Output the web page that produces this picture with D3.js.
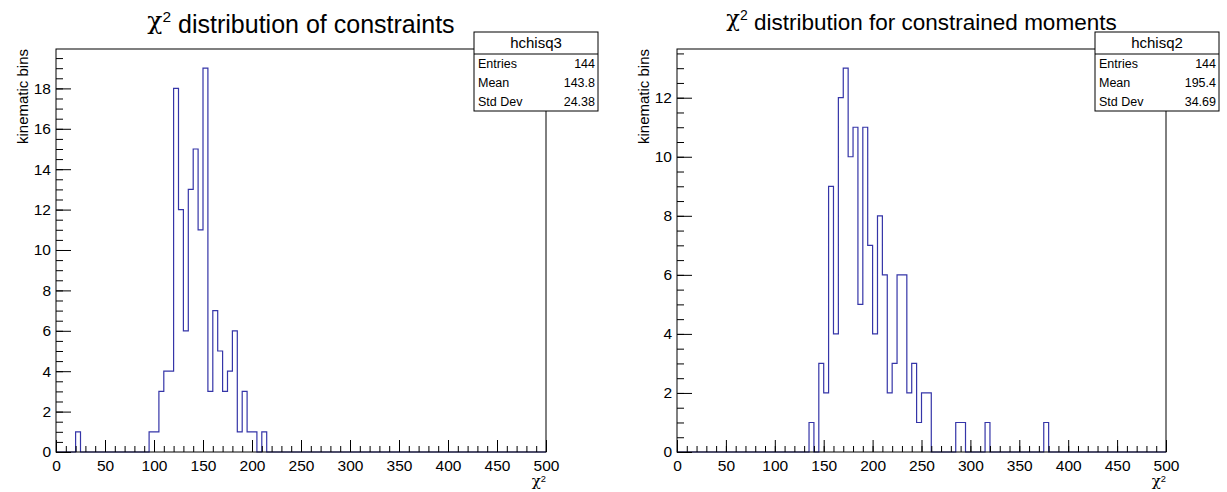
<!DOCTYPE html>
<html>
<head>
<meta charset="utf-8">
<script src="https://cdn.jsdelivr.net/npm/d3@7"></script>
<style>
  body { margin: 0; background: #fff; }
  svg { display: block; font-family: "Liberation Sans", Arial, sans-serif; }
</style>
</head>
<body>
<div id="chart"></div>
<script>
// --- data (bin width 5, range 0..500) ---
const binWidth = 5;
const xRange = [0, 500];

// hchisq3: counts starting at chi2 = 20
const constraintsStart = 20;
const constraintsCounts = [1, 0, 0, 0, 0, 0, 0, 0, 0, 0, 0, 0, 0, 0, 0, 1, 1, 3, 4, 4,
    18, 12, 6, 13, 15, 11, 19, 3, 7, 5, 3, 4, 6, 1, 3, 1, 1, 0, 1];

// hchisq2: counts starting at chi2 = 135
const momentsStart = 135;
const momentsCounts = [1, 0, 3, 2, 9, 4, 12, 13, 10, 11, 5, 11, 7, 4, 8, 6, 2, 3, 6, 6,
    2, 3, 1, 2, 2, 0, 0, 0, 0, 0, 1, 1, 0, 0, 0, 0, 1, 0, 0, 0, 0, 0, 0, 0, 0, 0, 0, 0, 1];

const xTicks = [0, 50, 100, 150, 200, 250, 300, 350, 400, 450, 500];
const constraintsYTicks = [0, 2, 4, 6, 8, 10, 12, 14, 16, 18];
const momentsYTicks = [0, 2, 4, 6, 8, 10, 12];

const statLabels = ["Entries", "Mean", "Std Dev"];
const constraintsStats = ["144", "143.8", "24.38"];
const momentsStats = ["144", "195.4", "34.69"];

const panels = [
    { title: "distribution of constraints", titleSize: 25, titleY: 29, name: "hchisq3",
      start: constraintsStart, counts: constraintsCounts, yTicks: constraintsYTicks,
      stats: constraintsStats, frame: { x0: 56, x1: 546 }, box: { x0: 474, x1: 598 } },
    { title: "distribution for constrained moments", titleSize: 22.5, titleY: 26, name: "hchisq2",
      start: momentsStart, counts: momentsCounts, yTicks: momentsYTicks,
      stats: momentsStats, frame: { x0: 677, x1: 1166 }, box: { x0: 1095, x1: 1219 } }
];

const W = 1227, H = 492;
const frameTop = 49, frameBottom = 452;
const lineColor = "#3535a8";

const svg = d3.select("#chart").append("svg")
    .attr("width", W)
    .attr("height", H);

// writes "χ²" followed by optional text
function chiText(sel, rest) {
    sel.append("tspan").attr("font-family", "DejaVu Serif, serif").text("χ");
    sel.append("tspan").attr("dy", "-0.45em").attr("font-size", "62%").text("2");
    if (rest) sel.append("tspan").attr("dy", "0.45em").text(" " + rest);
}

panels.forEach(p => {
    const g = svg.append("g");

    // full histogram over the axis range
    const nBins = (xRange[1] - xRange[0]) / binWidth;
    const bins = d3.range(nBins).map(i => {
        const lo = xRange[0] + i * binWidth;
        const k = Math.round((lo - p.start) / binWidth);
        return { lo: lo, n: (k >= 0 && k < p.counts.length) ? p.counts[k] : 0 };
    });
    const maxN = d3.max(bins, d => d.n);

    const x = d3.scaleLinear().domain(xRange).range([p.frame.x0, p.frame.x1]);
    const y = d3.scaleLinear().domain([0, maxN * 1.05]).range([frameBottom, frameTop]);

    // histogram outline
    const pts = bins.map(d => [d.lo, d.n]);
    pts.push([xRange[1], bins[bins.length - 1].n]);
    const line = d3.line()
        .x(d => x(d[0]))
        .y(d => y(d[1]))
        .curve(d3.curveStepAfter);
    g.append("path")
        .attr("d", line([[xRange[0], 0]].concat(pts)))
        .attr("fill", "none")
        .attr("stroke", lineColor)
        .attr("stroke-width", 1.2);

    // frame
    g.append("rect")
        .attr("x", p.frame.x0).attr("y", frameTop)
        .attr("width", p.frame.x1 - p.frame.x0).attr("height", frameBottom - frameTop)
        .attr("fill", "none").attr("stroke", "#000").attr("stroke-width", 1);

    // x axis: major + minor ticks pointing inward
    const xMinor = d3.range(xRange[0], xRange[1] + 1, 10);
    g.append("g")
        .attr("transform", `translate(0,${frameBottom})`)
        .call(d3.axisBottom(x).tickValues(xMinor).tickSize(-6).tickFormat(""))
        .call(a => a.select(".domain").remove());
    g.append("g")
        .attr("transform", `translate(0,${frameBottom})`)
        .call(d3.axisBottom(x).tickValues(xTicks).tickSize(-12).tickPadding(8).tickFormat(d3.format("d")))
        .call(a => a.select(".domain").remove())
        .call(a => a.selectAll("text").attr("font-size", 15.5).attr("fill", "#000")
            .attr("font-family", "Liberation Sans, Arial, sans-serif"));

    // y axis
    const yMinor = d3.range(0, maxN * 1.05, 0.5);
    g.append("g")
        .attr("transform", `translate(${p.frame.x0},0)`)
        .call(d3.axisLeft(y).tickValues(yMinor).tickSize(-7).tickFormat(""))
        .call(a => a.select(".domain").remove());
    g.append("g")
        .attr("transform", `translate(${p.frame.x0},0)`)
        .call(d3.axisLeft(y).tickValues(p.yTicks).tickSize(-15).tickPadding(5).tickFormat(d3.format("d")))
        .call(a => a.select(".domain").remove())
        .call(a => a.selectAll("text").attr("font-size", 15.5).attr("fill", "#000")
            .attr("font-family", "Liberation Sans, Arial, sans-serif"));

    // axis titles
    const xt = g.append("text")
        .attr("x", p.frame.x1).attr("y", 486)
        .attr("text-anchor", "end")
        .attr("font-size", 15);
    chiText(xt);

    g.append("text")
        .attr("transform", `translate(${p.frame.x0 - 28},${frameTop}) rotate(-90)`)
        .attr("text-anchor", "end")
        .attr("font-size", 15)
        .text("kinematic bins");

    // title
    const tt = g.append("text")
        .attr("x", (p.frame.x0 + p.frame.x1) / 2).attr("y", p.titleY)
        .attr("text-anchor", "middle")
        .attr("font-size", p.titleSize);
    chiText(tt, p.title);

    // stats box
    const bx = p.box, by0 = 32, by1 = 111, bsep = 54;
    g.append("rect")
        .attr("x", bx.x0).attr("y", by0)
        .attr("width", bx.x1 - bx.x0).attr("height", by1 - by0)
        .attr("fill", "#fff").attr("stroke", "#000").attr("stroke-width", 1);
    g.append("line")
        .attr("x1", bx.x0).attr("x2", bx.x1).attr("y1", bsep).attr("y2", bsep)
        .attr("stroke", "#000");
    g.append("text")
        .attr("x", (bx.x0 + bx.x1) / 2).attr("y", bsep - 6)
        .attr("text-anchor", "middle").attr("font-size", 15)
        .text(p.name);
    const rowH = (by1 - bsep) / statLabels.length;
    statLabels.forEach((lab, i) => {
        const ty = bsep + rowH * (i + 0.5) + 4.5;
        g.append("text").attr("x", bx.x0 + 4).attr("y", ty)
            .attr("font-size", 12.5).text(lab);
        g.append("text").attr("x", bx.x1 - 3).attr("y", ty)
            .attr("text-anchor", "end").attr("font-size", 12.5).text(p.stats[i]);
    });
});
</script>
</body>
</html>
